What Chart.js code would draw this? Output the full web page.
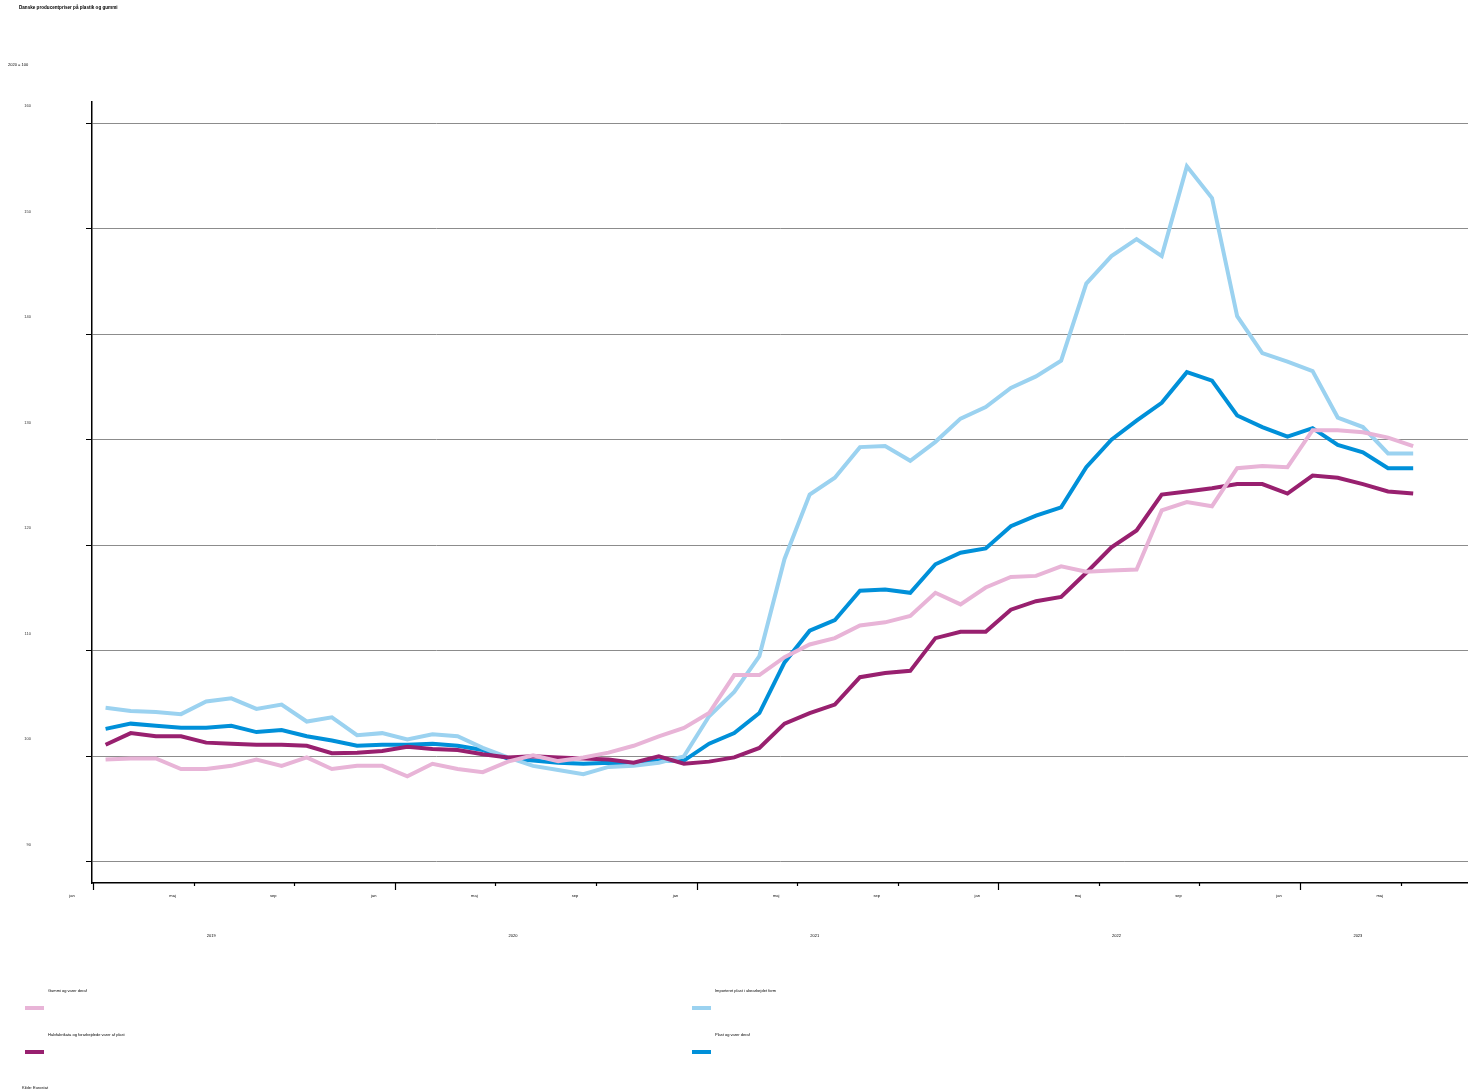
<!DOCTYPE html>
<html>
<head>
<meta charset="utf-8">
<script src="https://cdn.jsdelivr.net/npm/chart.js@4.4.0/dist/chart.umd.min.js"></script>
<style>
  body { margin: 0; background: #fff; font-family: "Liberation Sans", Arial, sans-serif; }
  #wrap { position: relative; width: 1468px; height: 1090px; }
  canvas { position: absolute; left: 0; top: 0; }
  .txt { position: absolute; font-size: 4px; line-height: 5px; color: #000; white-space: nowrap; }
  .title { font-weight: bold; font-size: 4.6px; }
  .sw { position: absolute; width: 19px; height: 4px; }
</style>
</head>
<body>
<div id="wrap">
  <canvas id="myChart" width="1468" height="1090"></canvas>
  <div class="txt title" style="left:19px; top:5px;">Danske producentpriser på plastik og gummi</div>
  <div class="txt" style="left:8px; top:62px;">2020 = 100</div>
  <div id="legend"></div>
  <div class="txt" style="left:22px; top:1085px;">Kilde: Eurostat</div>
</div>
<script>
'use strict'

// categories: one point per month, jan 2019 - maj 2023
let monthNames = ['jan', 'feb', 'mar', 'apr', 'maj', 'jun', 'jul', 'aug', 'sep', 'okt', 'nov', 'dec'];
let years = [2019, 2020, 2021, 2022, 2023];
let monthsInLastYear = 5;

// tick labels
let xTickMonths = [0, 4, 8, 12, 16, 20, 24, 28, 32, 36, 40, 44, 48, 52];
let yTicks = [90, 100, 110, 120, 130, 140, 150, 160];
// where the year labels sit, in months from jan 2019
let yearLabelAt = [4.7, 16.7, 28.7, 40.7, 50.3];

// series values (2020 = 100)
let gummi = [99.7, 99.8, 99.8, 98.8, 98.8, 99.1, 99.7, 99.1, 99.9, 98.8, 99.1, 99.1,
  98.1, 99.3, 98.8, 98.5, 99.5, 100.1, 99.55, 99.9, 100.35, 101.0, 101.9, 102.7,
  104.1, 107.7, 107.7, 109.4, 110.6, 111.2, 112.4, 112.7, 113.3, 115.5, 114.4, 116.0,
  117.0, 117.1, 118.0, 117.5, 117.6, 117.7, 123.3, 124.1, 123.7, 127.3, 127.5, 127.4,
  130.9, 130.9, 130.7, 130.2, 129.4];

let halvfabrikata = [101.1, 102.2, 101.9, 101.9, 101.3, 101.2, 101.1, 101.1, 101.0, 100.3, 100.35, 100.5,
  100.9, 100.7, 100.6, 100.2, 99.9, 100.0, 99.9, 99.8, 99.7, 99.4, 100.0, 99.3,
  99.5, 99.9, 100.8, 103.1, 104.1, 104.9, 107.5, 107.9, 108.1, 111.2, 111.8, 111.8,
  113.9, 114.7, 115.1, 117.4, 119.8, 121.4, 124.8, 125.1, 125.4, 125.8, 125.8, 124.9,
  126.6, 126.4, 125.8, 125.1, 124.9];

let importeret = [104.6, 104.3, 104.2, 104.0, 105.2, 105.5, 104.5, 104.9, 103.3, 103.7, 102.0, 102.2,
  101.6, 102.1, 101.9, 100.8, 99.9, 99.1, 98.7, 98.3, 99.0, 99.1, 99.4, 100.0,
  103.8, 106.1, 109.5, 118.7, 124.8, 126.4, 129.3, 129.4, 128.0, 129.8, 132.0, 133.1,
  134.9, 136.0, 137.5, 144.8, 147.4, 149.0, 147.4, 155.9, 152.9, 141.7, 138.2, 137.4,
  136.5, 132.1, 131.2, 128.7, 128.7];

let plast = [102.6, 103.1, 102.9, 102.7, 102.7, 102.9, 102.3, 102.5, 101.9, 101.5, 101.0, 101.1,
  101.1, 101.2, 101.0, 100.6, 99.8, 99.6, 99.4, 99.3, 99.4, 99.35, 99.6, 99.6,
  101.2, 102.2, 104.1, 108.9, 111.9, 112.9, 115.7, 115.8, 115.5, 118.2, 119.3, 119.7,
  121.8, 122.8, 123.6, 127.4, 130.0, 131.8, 133.5, 136.4, 135.6, 132.3, 131.2, 130.3,
  131.1, 129.5, 128.8, 127.3, 127.3];

let categories = [];
for (let y = 0; y < years.length; y++) {
  let n = (y === years.length - 1) ? monthsInLastYear : 12;
  for (let m = 0; m < n; m++) {
    categories.push(monthNames[m] + ' ' + years[y]);
  }
}

let series = [
  { label: 'Gummi og varer deraf', values: gummi, color: '#e8b4d7' },
  { label: 'Halvfabrikata og forarbejdede varer af plast', values: halvfabrikata, color: '#98206f' },
  { label: 'Importeret plast i ubearbejdet form', values: importeret, color: '#9bd2f0' },
  { label: 'Plast og varer deraf', values: plast, color: '#0090d9' }
];

// points sit in the middle of each month
function toPoints(values) {
  let pts = [];
  for (let i = 0; i < categories.length; i++) {
    pts.push({ x: i + 0.5, y: values[i] });
  }
  return pts;
}

// short ticks for maj/sep, longer for jan
const monthTicks = {
  id: 'monthTicks',
  afterDraw(chart) {
    let ctx = chart.ctx;
    let xs = chart.scales.x;
    ctx.save();
    ctx.strokeStyle = '#000';
    ctx.lineWidth = 1.2;
    xs.ticks.forEach(function (t) {
      let px = Math.round(xs.getPixelForValue(t.value)) + 0.5;
      let len = (t.value % 12 === 0) ? 7 : 3;
      ctx.beginPath();
      ctx.moveTo(px, xs.top);
      ctx.lineTo(px, xs.top + len);
      ctx.stroke();
    });
    ctx.restore();
  }
};

const ctx = document.getElementById('myChart');

new Chart(ctx, {
  type: 'line',
  data: {
    datasets: series.map(function (s) {
      return {
        label: s.label,
        data: toPoints(s.values),
        borderColor: s.color,
        backgroundColor: s.color,
        borderWidth: 4,
        pointRadius: 0,
        tension: 0,
        fill: false
      };
    })
  },
  options: {
    responsive: false,
    animation: false,
    layout: { padding: { top: 102, right: 0, bottom: 137, left: 0 } },
    plugins: {
      legend: { display: false },
      tooltip: { enabled: false }
    },
    scales: {
      x: {
        type: 'linear',
        position: 'bottom',
        min: -0.04,
        max: 54.68,
        afterBuildTicks: function (s) { s.ticks = xTickMonths.map(v => ({ value: v })); },
        afterFit: function (s) { s.height = 30; },
        ticks: {
          autoSkip: false,
          maxRotation: 0,
          padding: 10,
          labelOffset: -21,
          color: '#000',
          font: { size: 4, family: 'Liberation Sans' },
          callback: function (v) { return monthNames[v % 12]; }
        },
        grid: { display: true, drawOnChartArea: false, drawTicks: false },
        border: { color: '#000', width: 1.5 }
      },
      x2: {
        type: 'linear',
        position: 'bottom',
        min: -0.04,
        max: 54.68,
        afterBuildTicks: function (s) { s.ticks = yearLabelAt.map(v => ({ value: v })); },
        afterFit: function (s) { s.height = 40; },
        ticks: {
          autoSkip: false,
          maxRotation: 0,
          padding: 20,
          color: '#000',
          font: { size: 4, family: 'Liberation Sans' },
          callback: function (v, i) { return String(years[i]); }
        },
        grid: { display: false, drawTicks: false },
        border: { display: false }
      },
      y: {
        min: 88,
        max: 162,
        afterBuildTicks: function (s) { s.ticks = yTicks.map(v => ({ value: v })); },
        afterFit: function (s) { s.width = 92; },
        ticks: {
          padding: 55,
          labelOffset: -17,
          color: '#333',
          font: { size: 4, family: 'Liberation Sans' }
        },
        grid: { color: '#8c8c8c', lineWidth: 1, tickColor: '#000', tickLength: 6 },
        border: { color: '#000', width: 1.5 }
      }
    }
  },
  plugins: [monthTicks]
});

// legend: two columns, text above a short swatch
function renderLegend() {
  let box = document.getElementById('legend');
  let cols = [25, 692];
  let rows = [989, 1033];
  for (let i = 0; i < series.length; i++) {
    let left = cols[Math.floor(i / 2)];
    let top = rows[i % 2];
    let label = document.createElement('div');
    label.className = 'txt';
    label.style.left = (left + 23) + 'px';
    label.style.top = (top - 1) + 'px';
    label.textContent = series[i].label;
    let sw = document.createElement('div');
    sw.className = 'sw';
    sw.style.left = left + 'px';
    sw.style.top = (top + 17) + 'px';
    sw.style.background = series[i].color;
    box.appendChild(label);
    box.appendChild(sw);
  }
}

renderLegend();
</script>
</body>
</html>
